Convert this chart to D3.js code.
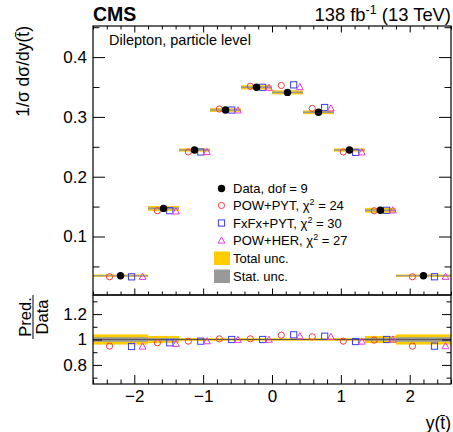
<!DOCTYPE html>
<html>
<head>
<meta charset="utf-8">
<script src="https://cdn.jsdelivr.net/npm/d3@7"></script>
<style>
  body { margin: 0; background: #fff; }
  svg { font-family: "Liberation Sans", Arial, sans-serif; }
</style>
</head>
<body>
<div id="chart"></div>
<script>
// bins of y(tbar) and measured values
const binEdges = [-2.6, -1.8, -1.35, -0.9, -0.45, 0, 0.45, 0.9, 1.35, 1.8, 2.6];
const dataValues = [0.0345, 0.147, 0.2446, 0.3115, 0.3495, 0.341, 0.3077, 0.2446, 0.1438, 0.0345];
// relative uncertainties
const totalUnc = [0.04, 0.028, 0.011, 0.01, 0.01, 0.01, 0.01, 0.011, 0.028, 0.04];
const statUnc = [0.018, 0.011, 0.005, 0.004, 0.004, 0.004, 0.004, 0.005, 0.011, 0.018];
// predictions
const powPyt = [0.0327, 0.1432, 0.2414, 0.3131, 0.3513, 0.3526, 0.3142, 0.2414, 0.1431, 0.0327];
const fxfxPyt = [0.0326, 0.1432, 0.2414, 0.3115, 0.3495, 0.3536, 0.3157, 0.2407, 0.1438, 0.0327];
const powHer = [0.0326, 0.1420, 0.2414, 0.3109, 0.3488, 0.3499, 0.3142, 0.2407, 0.1438, 0.0327];

const legendLabels = ["Data, dof = 9", "POW+PYT", "FxFx+PYT", "POW+HER"];
const chi2 = [null, 24, 30, 27];
const xTicks = [-2, -1, 0, 1, 2];
const yTopTicks = [0.1, 0.2, 0.3, 0.4];
const yBotTicks = [0.8, 1, 1.2];

const W = 453, H = 432;
const L = 93, R = 451, T = 26, MID = 295, B = 384;

const svg = d3.select("#chart").append("svg")
    .attr("width", W).attr("height", H);

const x = d3.scaleLinear().domain([-2.6, 2.6]).range([L, R]);
const yTop = d3.scaleLinear().domain([0.0022, 0.452]).range([MID, T]);
const yBot = d3.scaleLinear().domain([0.65, 1.35]).range([B, MID]);

const bins = dataValues.map((v, i) => ({
    lo: binEdges[i], hi: binEdges[i + 1], c: (binEdges[i] + binEdges[i + 1]) / 2,
    v: v, tot: totalUnc[i], stat: statUnc[i]
}));

const models = [
    { name: "POW+PYT", vals: powPyt, shape: "circle", color: "#f03c3c", off: -0.2 },
    { name: "FxFx+PYT", vals: fxfxPyt, shape: "square", color: "#3c3cec", off: 0.2 },
    { name: "POW+HER", vals: powHer, shape: "triangle", color: "#e63ce6", off: 0.4 }
];

function marker(g, shape, cx, cy, color) {
    if (shape === "circle") {
        g.append("circle").attr("cx", cx).attr("cy", cy).attr("r", 3.1)
            .attr("fill", "none").attr("stroke", color).attr("stroke-width", 1);
    } else if (shape === "square") {
        g.append("rect").attr("x", cx - 3.1).attr("y", cy - 3.1)
            .attr("width", 6.2).attr("height", 6.2)
            .attr("fill", "none").attr("stroke", color).attr("stroke-width", 1);
    } else if (shape === "triangle") {
        g.append("path")
            .attr("d", `M${cx},${cy - 3.6}L${cx + 3.4},${cy + 2.6}L${cx - 3.4},${cy + 2.6}Z`)
            .attr("fill", "none").attr("stroke", color).attr("stroke-width", 1);
    } else {
        g.append("circle").attr("cx", cx).attr("cy", cy).attr("r", 3.7).attr("fill", "#000");
    }
}

// ---- top panel bands ----
const topG = svg.append("g");
bins.forEach(b => {
    const x0 = x(b.lo), x1 = x(b.hi);
    let h = Math.max(yTop(b.v * (1 - b.tot)) - yTop(b.v * (1 + b.tot)), 2.4);
    topG.append("rect").attr("x", x0).attr("width", x1 - x0)
        .attr("y", yTop(b.v) - h / 2).attr("height", h).attr("fill", "#ffcc00");
    h = Math.max(yTop(b.v * (1 - b.stat)) - yTop(b.v * (1 + b.stat)), 1.3);
    topG.append("rect").attr("x", x0).attr("width", x1 - x0)
        .attr("y", yTop(b.v) - h / 2).attr("height", h).attr("fill", "#999");
});

models.forEach(m => {
    bins.forEach((b, i) => {
        const px = x(b.c) + m.off * (x(b.hi) - x(b.lo));
        marker(topG, m.shape, px, yTop(m.vals[i]), m.color);
    });
});
bins.forEach(b => marker(topG, "data", x(b.c), yTop(b.v)));

// ---- ratio panel ----
const botG = svg.append("g");
bins.forEach(b => {
    const x0 = x(b.lo), x1 = x(b.hi);
    botG.append("rect").attr("x", x0).attr("width", x1 - x0)
        .attr("y", yBot(1 + b.tot)).attr("height", yBot(1 - b.tot) - yBot(1 + b.tot))
        .attr("fill", "#ffcc00");
    botG.append("rect").attr("x", x0).attr("width", x1 - x0)
        .attr("y", yBot(1 + b.stat)).attr("height", yBot(1 - b.stat) - yBot(1 + b.stat))
        .attr("fill", "#999");
});
botG.append("line").attr("x1", L).attr("x2", R).attr("y1", yBot(1)).attr("y2", yBot(1))
    .attr("stroke", "#555").attr("stroke-width", 1);

models.forEach(m => {
    bins.forEach((b, i) => {
        const px = x(b.c) + m.off * (x(b.hi) - x(b.lo));
        marker(botG, m.shape, px, yBot(m.vals[i] / b.v), m.color);
    });
});

// ---- axes / frames ----
const xMinor = d3.range(-26, 27, 2).map(d => d / 10).filter(d => Math.abs(d - Math.round(d)) > 1e-6);
const yTopMinor = [0.05, 0.15, 0.25, 0.35, 0.45];
const yBotMinor = [0.7, 0.9, 1.1, 1.3];
const fmt = d3.format("");

function styleAxis(g) {
    g.select(".domain").remove();
    g.selectAll("line").attr("stroke", "#000").attr("stroke-width", 1);
    g.selectAll("text").attr("fill", "#000").style("font-size", "17px")
        .style("font-family", "'Liberation Sans', Arial, sans-serif");
}

function addAxis(axis, ty, tx) {
    svg.append("g").attr("transform", `translate(${tx || 0},${ty || 0})`).call(axis).call(styleAxis);
}

// top panel y
addAxis(d3.axisLeft(yTop).tickValues(yTopTicks).tickSize(-12).tickPadding(6).tickFormat(fmt), 0, L);
addAxis(d3.axisLeft(yTop).tickValues(yTopMinor).tickSize(-6.5).tickFormat(""), 0, L);
addAxis(d3.axisRight(yTop).tickValues(yTopTicks).tickSize(-12).tickFormat(""), 0, R);
addAxis(d3.axisRight(yTop).tickValues(yTopMinor).tickSize(-6.5).tickFormat(""), 0, R);
// top panel x
addAxis(d3.axisTop(x).tickValues(xTicks).tickSize(-6.5).tickFormat(""), T);
addAxis(d3.axisTop(x).tickValues(xMinor).tickSize(-3.5).tickFormat(""), T);
addAxis(d3.axisBottom(x).tickValues(xTicks).tickSize(-6.5).tickFormat(""), MID);
addAxis(d3.axisBottom(x).tickValues(xMinor).tickSize(-3.5).tickFormat(""), MID);
// ratio panel y
addAxis(d3.axisLeft(yBot).tickValues(yBotTicks).tickSize(-9).tickPadding(6).tickFormat(fmt), 0, L);
addAxis(d3.axisLeft(yBot).tickValues(yBotMinor).tickSize(-4.5).tickFormat(""), 0, L);
addAxis(d3.axisRight(yBot).tickValues(yBotTicks).tickSize(-9).tickFormat(""), 0, R);
addAxis(d3.axisRight(yBot).tickValues(yBotMinor).tickSize(-4.5).tickFormat(""), 0, R);
// ratio panel x
addAxis(d3.axisBottom(x).tickValues(xTicks).tickSize(-9).tickPadding(6).tickFormat(fmt), B);
addAxis(d3.axisBottom(x).tickValues(xMinor).tickSize(-4.5).tickFormat(""), B);

svg.append("rect").attr("x", L).attr("y", T).attr("width", R - L).attr("height", MID - T)
    .attr("fill", "none").attr("stroke", "#000").attr("stroke-width", 1.2);
svg.append("rect").attr("x", L).attr("y", MID).attr("width", R - L).attr("height", B - MID)
    .attr("fill", "none").attr("stroke", "#000").attr("stroke-width", 1.2);

// ---- texts ----
svg.append("text").attr("x", L).attr("y", 21)
    .style("font-size", "19.5px").style("font-weight", "bold").text("CMS");

const lumi = svg.append("text").attr("x", R).attr("y", 21).attr("text-anchor", "end")
    .style("font-size", "18.4px");
lumi.append("tspan").text("138 fb");
lumi.append("tspan").attr("dy", -7).style("font-size", "12.5px").text("-1");
lumi.append("tspan").attr("dy", 7).text(" (13 TeV)");

svg.append("text").attr("x", 109).attr("y", 45).style("font-size", "14.5px")
    .text("Dilepton, particle level");

svg.append("text").attr("transform", `translate(29,${T}) rotate(-90)`)
    .attr("text-anchor", "end").style("font-size", "17.5px")
    .text("1/\u03c3 d\u03c3/dy(t\u0304)");

// ratio title as a fraction
const frac = svg.append("g").attr("transform", `translate(33,317) rotate(-90)`);
frac.append("text").attr("x", 0).attr("y", -2.5).attr("text-anchor", "middle")
    .style("font-size", "16.5px").text("Pred.");
frac.append("line").attr("x1", -22).attr("x2", 22).attr("y1", 0).attr("y2", 0)
    .attr("stroke", "#000").attr("stroke-width", 1);
frac.append("text").attr("x", 0).attr("y", 14.5).attr("text-anchor", "middle")
    .style("font-size", "16.5px").text("Data");

svg.append("text").attr("x", R).attr("y", 429).attr("text-anchor", "end")
    .style("font-size", "17.5px").text("y(t\u0304)");

// ---- legend ----
const leg = svg.append("g");
const legRows = [188.5, 205.5, 223, 240.5];
const legShapes = ["data", "circle", "square", "triangle"];
const legColors = ["#000", "#f03c3c", "#3c3cec", "#e63ce6"];
legRows.forEach((ry, i) => {
    marker(leg, legShapes[i], 221.5, ry, legColors[i]);
    const t = leg.append("text").attr("x", 233).attr("y", ry + 4.6).style("font-size", "13px");
    if (chi2[i] === null) {
        t.text(legendLabels[i]);
    } else {
        t.append("tspan").text(legendLabels[i] + ", \u03c7");
        t.append("tspan").attr("dy", -5).style("font-size", "9px").text("2");
        t.append("tspan").attr("dy", 5).text(" = " + chi2[i]);
    }
});
leg.append("rect").attr("x", 214).attr("y", 251.5).attr("width", 16).attr("height", 13.5).attr("fill", "#ffcc00");
leg.append("text").attr("x", 233).attr("y", 263).style("font-size", "13px").text("Total unc.");
leg.append("rect").attr("x", 214).attr("y", 269.5).attr("width", 16).attr("height", 13.5).attr("fill", "#999");
leg.append("text").attr("x", 233).attr("y", 281).style("font-size", "13px").text("Stat. unc.");
</script>
</body>
</html>
